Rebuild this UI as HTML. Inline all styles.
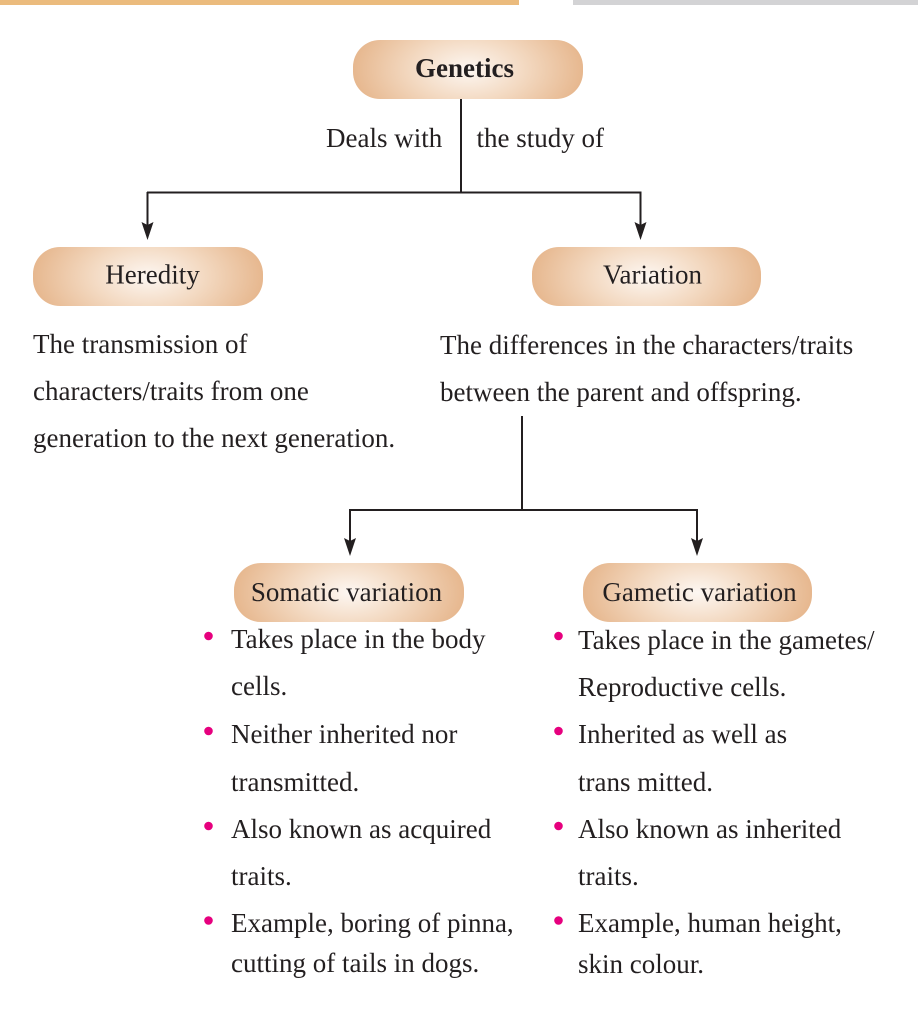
<!DOCTYPE html>
<html>
<head>
<meta charset="utf-8">
<style>
  html, body { margin:0; padding:0; background:#ffffff; }
  body { width:918px; height:1024px; overflow:hidden; }
  svg { display:block; }
  text { font-family: "Liberation Serif", "Times New Roman", serif; font-size:27px; fill:#231f20; }
  .b { font-weight:bold; }
</style>
</head>
<body>
<svg width="918" height="1024" viewBox="0 0 918 1024" xmlns="http://www.w3.org/2000/svg">
  <defs>
    <radialGradient id="g" cx="50%" cy="50%" r="55%" fx="50%" fy="50%" gradientTransform="translate(0.5 0.5) scale(1 2.2) translate(-0.5 -0.5)">
      <stop offset="0%" stop-color="#fdf7f2"/>
      <stop offset="45%" stop-color="#f3d9c1"/>
      <stop offset="100%" stop-color="#e4b185"/>
    </radialGradient>
  </defs>

  <!-- top bars -->
  <rect x="0" y="0" width="519" height="5" fill="#ebbb7d"/>
  <rect x="573" y="0" width="345" height="5" fill="#d3d3d5"/>

  <!-- boxes -->
  <rect x="353" y="40" width="230" height="59" rx="27" ry="27" fill="url(#g)"/>
  <rect x="33" y="247" width="230" height="59" rx="27" ry="27" fill="url(#g)"/>
  <rect x="532" y="247" width="229" height="59" rx="27" ry="27" fill="url(#g)"/>
  <rect x="234" y="563" width="230" height="59" rx="27" ry="27" fill="url(#g)"/>
  <rect x="583" y="563" width="229" height="59" rx="27" ry="27" fill="url(#g)"/>

  <!-- box labels -->
  <text class="b" x="464.5" y="77" text-anchor="middle">Genetics</text>
  <text x="152.5" y="283.5" text-anchor="middle">Heredity</text>
  <text x="652.5" y="283.5" text-anchor="middle">Variation</text>
  <text x="346.5" y="601" text-anchor="middle">Somatic variation</text>
  <text x="699.5" y="601" text-anchor="middle">Gametic variation</text>

  <!-- connectors -->
  <g stroke="#231f20" stroke-width="2" fill="none">
    <line x1="461" y1="99" x2="461" y2="193"/>
    <line x1="147" y1="192.5" x2="641.5" y2="192.5"/>
    <line x1="147.5" y1="192" x2="147.5" y2="228"/>
    <line x1="640.5" y1="192" x2="640.5" y2="228"/>
    <line x1="522" y1="416" x2="522" y2="511"/>
    <line x1="349" y1="510" x2="698" y2="510"/>
    <line x1="350" y1="510" x2="350" y2="544"/>
    <line x1="697" y1="510" x2="697" y2="544"/>
  </g>
  <g fill="#231f20">
    <polygon points="141.5,222 147.5,225 153.5,222 147.5,240"/>
    <polygon points="634.5,222 640.5,225 646.5,222 640.5,240"/>
    <polygon points="344,538 350,541 356,538 350,556"/>
    <polygon points="691,538 697,541 703,538 697,556"/>
  </g>

  <!-- connector labels -->
  <text x="326" y="147">Deals with</text>
  <text x="476.5" y="147">the study of</text>

  <!-- heredity description -->
  <text x="33" y="353">The transmission of</text>
  <text x="33" y="400">characters/traits from one</text>
  <text x="33" y="447">generation to the next generation.</text>

  <!-- variation description -->
  <text x="440" y="354">The differences in the characters/traits</text>
  <text x="440" y="401">between the parent and offspring.</text>

  <!-- bullets -->
  <g fill="#e6007e">
    <circle cx="208.5" cy="636" r="4.3"/>
    <circle cx="208.5" cy="731" r="4.3"/>
    <circle cx="208.5" cy="826" r="4.3"/>
    <circle cx="208.5" cy="920.5" r="4.3"/>
    <circle cx="558.5" cy="636" r="4.3"/>
    <circle cx="558.5" cy="731" r="4.3"/>
    <circle cx="558.5" cy="826" r="4.3"/>
    <circle cx="558.5" cy="920.5" r="4.3"/>
  </g>

  <!-- somatic list -->
  <text x="231" y="648">Takes place in the body</text>
  <text x="231" y="695">cells.</text>
  <text x="231" y="743">Neither inherited nor</text>
  <text x="231" y="791">transmitted.</text>
  <text x="231" y="838">Also known as acquired</text>
  <text x="231" y="885">traits.</text>
  <text x="231" y="932">Example, boring of pinna,</text>
  <text x="231" y="972">cutting of tails in dogs.</text>

  <!-- gametic list -->
  <text x="578" y="649">Takes place in the gametes/</text>
  <text x="578" y="696">Reproductive cells.</text>
  <text x="578" y="743">Inherited as well as</text>
  <text x="578" y="791">trans mitted.</text>
  <text x="578" y="838">Also known as inherited</text>
  <text x="578" y="885">traits.</text>
  <text x="578" y="932">Example, human height,</text>
  <text x="578" y="973">skin colour.</text>
</svg>
</body>
</html>
